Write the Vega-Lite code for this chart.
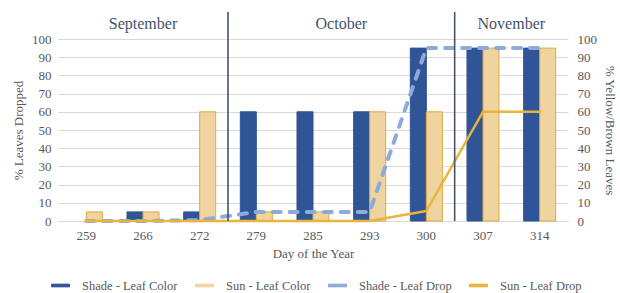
{
  "$schema": "https://vega.github.io/schema/vega-lite/v6.json",
  "width": 510,
  "height": 182,
  "autosize": {"type": "none"},
  "padding": {"left": 58, "top": 39, "right": 52, "bottom": 72},
  "config": {
    "view": {"stroke": null},
    "font": "Liberation Serif",
    "axis": {
      "labelFont": "Liberation Serif",
      "labelFontSize": 13,
      "labelColor": "#595959",
      "titleFont": "Liberation Serif",
      "titleFontSize": 13,
      "titleFontWeight": "normal",
      "titleColor": "#595959",
      "ticks": false,
      "domain": false,
      "labelOverlap": false,
      "gridColor": "#d9d9d9"
    },
    "legend": {
      "labelFont": "Liberation Serif",
      "labelFontSize": 12.5,
      "labelColor": "#595959"
    }
  },
  "datasets": {
    "bars": [
      {"day": "259", "series": "Sun - Leaf Color", "value": 5},
      {"day": "266", "series": "Shade - Leaf Color", "value": 5},
      {"day": "266", "series": "Sun - Leaf Color", "value": 5},
      {"day": "272", "series": "Shade - Leaf Color", "value": 5},
      {"day": "272", "series": "Sun - Leaf Color", "value": 60},
      {"day": "279", "series": "Shade - Leaf Color", "value": 60},
      {"day": "279", "series": "Sun - Leaf Color", "value": 5},
      {"day": "285", "series": "Shade - Leaf Color", "value": 60},
      {"day": "285", "series": "Sun - Leaf Color", "value": 5},
      {"day": "293", "series": "Shade - Leaf Color", "value": 60},
      {"day": "293", "series": "Sun - Leaf Color", "value": 60},
      {"day": "300", "series": "Shade - Leaf Color", "value": 95},
      {"day": "300", "series": "Sun - Leaf Color", "value": 60},
      {"day": "307", "series": "Shade - Leaf Color", "value": 95},
      {"day": "307", "series": "Sun - Leaf Color", "value": 95},
      {"day": "314", "series": "Shade - Leaf Color", "value": 95},
      {"day": "314", "series": "Sun - Leaf Color", "value": 95}
    ],
    "lines": [
      {"day": "259", "series": "Shade - Leaf Drop", "value": 0},
      {"day": "266", "series": "Shade - Leaf Drop", "value": 0},
      {"day": "272", "series": "Shade - Leaf Drop", "value": 0.5},
      {"day": "279", "series": "Shade - Leaf Drop", "value": 5},
      {"day": "285", "series": "Shade - Leaf Drop", "value": 5},
      {"day": "293", "series": "Shade - Leaf Drop", "value": 5},
      {"day": "300", "series": "Shade - Leaf Drop", "value": 95},
      {"day": "307", "series": "Shade - Leaf Drop", "value": 95},
      {"day": "314", "series": "Shade - Leaf Drop", "value": 95},
      {"day": "259", "series": "Sun - Leaf Drop", "value": 0},
      {"day": "266", "series": "Sun - Leaf Drop", "value": 0},
      {"day": "272", "series": "Sun - Leaf Drop", "value": 0},
      {"day": "279", "series": "Sun - Leaf Drop", "value": 0},
      {"day": "285", "series": "Sun - Leaf Drop", "value": 0},
      {"day": "293", "series": "Sun - Leaf Drop", "value": 0},
      {"day": "300", "series": "Sun - Leaf Drop", "value": 5.5},
      {"day": "307", "series": "Sun - Leaf Drop", "value": 60},
      {"day": "314", "series": "Sun - Leaf Drop", "value": 60}
    ],
    "dividers": [
      {"day": "272"},
      {"day": "300"}
    ],
    "months": [
      {"month": "September", "day": "266", "place": "center"},
      {"month": "October", "day": "285", "place": "edge"},
      {"month": "November", "day": "307", "place": "edge"}
    ]
  },
  "layer": [
    {
      "data": {"name": "bars"},
      "mark": {"type": "bar", "strokeWidth": 1},
      "encoding": {
        "x": {
          "field": "day",
          "type": "ordinal",
          "scale": {
            "domain": ["259", "266", "272", "279", "285", "293", "300", "307", "314"],
            "paddingInner": 0,
            "paddingOuter": 0
          },
          "axis": {
            "title": "Day of the Year",
            "labelAngle": 0,
            "labelPadding": 8,
            "titlePadding": 5,
            "labelFont": "Liberation Serif",
            "titleFont": "Liberation Serif",
            "domain": true,
            "domainColor": "#d9d9d9",
            "domainWidth": 1
          }
        },
        "xOffset": {
          "field": "series",
          "scale": {
            "domain": ["Shade - Leaf Color", "Sun - Leaf Color"],
            "paddingInner": 0,
            "paddingOuter": 0.77
          }
        },
        "y": {
          "field": "value",
          "type": "quantitative",
          "scale": {"domain": [0, 100], "nice": false},
          "axis": {
            "orient": "right",
            "title": "% Yellow/Brown Leaves",
            "values": [0, 10, 20, 30, 40, 50, 60, 70, 80, 90, 100],
            "grid": false,
            "labelFont": "Liberation Serif",
            "titleFont": "Liberation Serif",
            "labelPadding": 9,
            "titlePadding": 6
          }
        },
        "color": {
          "field": "series",
          "type": "nominal",
          "scale": {
            "domain": ["Shade - Leaf Color", "Sun - Leaf Color", "Shade - Leaf Drop", "Sun - Leaf Drop"],
            "range": ["#2f5597", "#efd49f", "#8eaadb", "#e8b43a"]
          },
          "legend": {
            "orient": "none",
            "legendX": -16,
            "legendY": 228,
            "direction": "horizontal",
            "title": null,
            "columns": 4,
            "columnPadding": 8,
            "labelOffset": 3,
            "labelFont": "Liberation Serif",
            "labelFontSize": 12.5,
            "labelColor": "#595959",
            "symbolType": "M-0.5,-0.075H0.5V0.075H-0.5Z",
            "symbolSize": 1296,
            "symbolStrokeWidth": 1,
            "symbolOpacity": 1,
            "encode": {
              "symbols": {
                "shape": {"value": {"expr": "indexOf(datum.value, 'Drop') >= 0 ? 'M-0.5,0H0.5' : 'M-0.5,-0.075H0.5V0.075H-0.5Z'"}},
                "strokeWidth": {"value": {"expr": "datum.value == 'Shade - Leaf Drop' ? 4 : datum.value == 'Sun - Leaf Drop' ? 3 : 1"}},
                "strokeDash": {"value": {"expr": "datum.value == 'Shade - Leaf Drop' ? [6, 7] : [1, 0]"}},
                "strokeCap": {"value": {"expr": "datum.value == 'Shade - Leaf Drop' ? 'round' : 'butt'"}}
              }
            }
          }
        },
        "stroke": {
          "condition": {"test": "datum.series == 'Sun - Leaf Color'", "value": "#e3a93a"},
          "value": "#2f5597"
        }
      }
    },
    {
      "data": {"name": "lines"},
      "mark": {"type": "line", "strokeCap": "round"},
      "encoding": {
        "x": {"field": "day", "type": "ordinal"},
        "y": {
          "field": "value",
          "type": "quantitative",
          "scale": {"domain": [0, 100], "nice": false},
          "axis": {
            "orient": "left",
            "title": "% Leaves Dropped",
            "values": [0, 10, 20, 30, 40, 50, 60, 70, 80, 90, 100],
            "grid": true,
            "labelFont": "Liberation Serif",
            "titleFont": "Liberation Serif",
            "labelPadding": 7,
            "titlePadding": 6
          }
        },
        "color": {"field": "series", "type": "nominal"},
        "strokeDash": {
          "field": "series",
          "type": "nominal",
          "scale": {"domain": ["Shade - Leaf Drop", "Sun - Leaf Drop"], "range": [[8, 9], [1, 0]]},
          "legend": null
        },
        "strokeWidth": {
          "field": "series",
          "type": "nominal",
          "scale": {"domain": ["Shade - Leaf Drop", "Sun - Leaf Drop"], "range": [4, 2.5]},
          "legend": null
        }
      }
    },
    {
      "data": {"name": "dividers"},
      "mark": {"type": "rule", "color": "#44546a", "strokeWidth": 1.6},
      "encoding": {
        "x": {"field": "day", "type": "ordinal", "bandPosition": 1},
        "y": {"datum": 0, "scale": {"domain": [0, 100], "nice": false}, "axis": null},
        "y2": {"datum": 114.8}
      }
    },
    {
      "data": {"name": "months"},
      "transform": [{"filter": "datum.place == 'center'"}],
      "mark": {"type": "text", "font": "Liberation Serif", "fontSize": 16, "color": "#44546a", "baseline": "middle"},
      "encoding": {
        "x": {"field": "day", "type": "ordinal", "bandPosition": 0.5},
        "y": {"datum": 108.5, "scale": {"domain": [0, 100], "nice": false}, "axis": null},
        "text": {"field": "month"}
      }
    },
    {
      "data": {"name": "months"},
      "transform": [{"filter": "datum.place == 'edge'"}],
      "mark": {"type": "text", "font": "Liberation Serif", "fontSize": 16, "color": "#44546a", "baseline": "middle"},
      "encoding": {
        "x": {"field": "day", "type": "ordinal", "bandPosition": 1},
        "y": {"datum": 108.5, "scale": {"domain": [0, 100], "nice": false}, "axis": null},
        "text": {"field": "month"}
      }
    }
  ],
  "resolve": {"scale": {"y": "independent"}}
}
